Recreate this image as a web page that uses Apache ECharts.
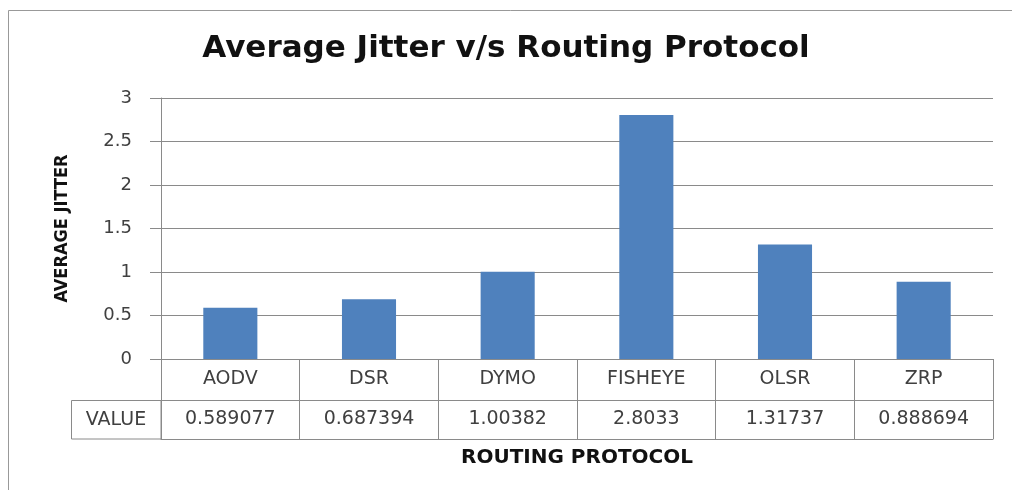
<!DOCTYPE html>
<html>
<head>
<meta charset="utf-8">
<script src="https://cdn.jsdelivr.net/npm/echarts@6/dist/echarts.min.js"></script>
<style>html,body{margin:0;padding:0;background:#fff;}#c{width:1012px;height:490px;}</style>
</head>
<body>
<div id="c"></div>
<script>
const categories = ['AODV', 'DSR', 'DYMO', 'FISHEYE', 'OLSR', 'ZRP'];
const jitter = [0.589077, 0.687394, 1.00382, 2.8033, 1.31737, 0.888694];
const valueLabels = ['0.589077', '0.687394', '1.00382', '2.8033', '1.31737', '0.888694'];
const yMin = 0, yMax = 3, yStep = 0.5;

const gray = '#8a8a8a';
const txt = '#404040';
const chart = echarts.init(document.getElementById('c'));
chart.setOption({
  animation: false,
  backgroundColor: '#fff',
  title: {
    text: 'Average Jitter v/s Routing Protocol',
    left: 'center', top: 28,
    textStyle: { fontFamily: 'DejaVu Sans', fontWeight: 'bold', fontSize: 31, color: '#111' }
  },
  grid: { left: 161, right: 19, top: 98, bottom: 131, containLabel: false },
  yAxis: {
    type: 'value', min: yMin, max: yMax, interval: yStep,
    name: 'AVERAGE JITTER', nameLocation: 'middle', nameGap: 90, nameRotate: 90,
    nameTextStyle: { fontFamily: 'DejaVu Sans Condensed', fontWeight: 'bold', fontSize: 18, color: '#111' },
    axisLine: { show: true, lineStyle: { color: gray } },
    axisTick: { show: true, length: 11, lineStyle: { color: gray } },
    axisLabel: { margin: 29, fontFamily: 'DejaVu Sans', fontSize: 18, color: txt },
    splitLine: { lineStyle: { color: gray, width: 1 } }
  },
  xAxis: [
    {
      type: 'category', data: categories, position: 'bottom',
      axisLine: { show: true, onZero: false, lineStyle: { color: gray } },
      axisTick: { show: true, length: 80, interval: 0, lineStyle: { color: gray } },
      axisLabel: { margin: 11, interval: 0, fontFamily: 'DejaVu Sans', fontSize: 19, color: txt }
    },
    {
      type: 'category', data: valueLabels, position: 'bottom', offset: 41,
      axisLine: { show: true, onZero: false, lineStyle: { color: gray } },
      axisTick: { show: false },
      axisLabel: { margin: 10, interval: 0, fontFamily: 'DejaVu Sans', fontSize: 19, color: txt }
    },
    {
      type: 'category', data: categories, position: 'bottom', offset: 80,
      name: 'ROUTING PROTOCOL', nameLocation: 'middle', nameGap: 9,
      nameTextStyle: { fontFamily: 'DejaVu Sans', fontWeight: 'bold', fontSize: 20, color: '#111' },
      axisLine: { show: true, onZero: false, lineStyle: { color: gray } },
      axisTick: { show: false },
      axisLabel: { show: false }
    }
  ],
  series: [{
    type: 'bar', data: jitter, xAxisIndex: 0, barWidth: '39%',
    itemStyle: { color: '#4f81bd' }
  }],
  graphic: [
    { type: 'rect', shape: { x: 8.5, y: 10.5, width: 1020, height: 500 }, style: { fill: 'none', stroke: '#999', lineWidth: 1 }, silent: true },
    { type: 'rect', shape: { x: 71.5, y: 400.5, width: 89.5, height: 38.5 }, style: { fill: 'none', stroke: gray, lineWidth: 1 }, silent: true },
    { type: 'text', x: 116, y: 420, style: { text: 'VALUE', fontFamily: 'DejaVu Sans', fontSize: 19, fill: txt, align: 'center', verticalAlign: 'middle' }, silent: true }
  ]
});
</script>
</body>
</html>
